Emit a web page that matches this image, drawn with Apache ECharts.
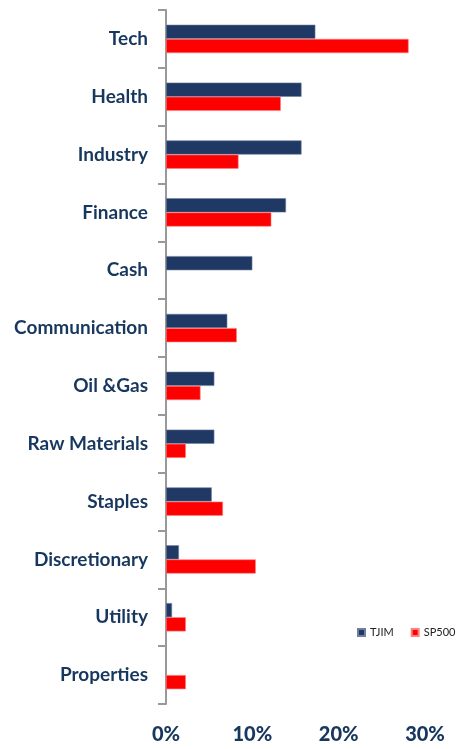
<!DOCTYPE html>
<html>
<head>
<meta charset="utf-8">
<script src="https://cdn.jsdelivr.net/npm/echarts@6/dist/echarts.min.js"></script>
<style>html,body{margin:0;padding:0;background:#fff}#c{width:457px;height:749px}</style>
</head>
<body>
<div id="c"></div>
<script>
const categories = ['Tech','Health','Industry','Finance','Cash','Communication','Oil &Gas','Raw Materials','Staples','Discretionary','Utility','Properties'];
const tjim = [17.3, 15.7, 15.7, 13.9, 10.0, 7.1, 5.6, 5.6, 5.3, 1.5, 0.7, null];
const sp500 = [28.1, 13.3, 8.4, 12.2, null, 8.2, 4.0, 2.3, 6.6, 10.4, 2.3, 2.3];
const xTicks = [0, 10, 20, 30];

const FONT = 'Lato, Liberation Sans, sans-serif';
const chart = echarts.init(document.getElementById('c'));
chart.setOption({
  animation: false,
  grid: { left: 166, right: 32, top: 10, bottom: 45, containLabel: false, outerBoundsMode: 'none' },
  legend: {
    data: ['TJIM', 'SP500'],
    orient: 'horizontal',
    left: 357, top: 627,
    padding: 0,
    itemWidth: 7, itemHeight: 7, itemGap: 17,
    icon: 'rect',
    textStyle: { color: '#222', fontSize: 11, fontFamily: FONT }
  },
  xAxis: {
    type: 'value', min: xTicks[0], max: xTicks[xTicks.length-1], interval: 10,
    axisLine: { show: false }, axisTick: { show: false }, splitLine: { show: false },
    axisLabel: {
      formatter: '{value}%', color: '#17375E', fontSize: 20, fontWeight: 900, margin: 21,
      fontFamily: FONT
    }
  },
  yAxis: {
    type: 'category', data: categories, inverse: true,
    axisLine: { show: true, lineStyle: { color: '#999', width: 2 } },
    axisTick: { show: true, length: 8, lineStyle: { color: '#999', width: 2 } },
    axisLabel: {
      color: '#17375E', fontSize: 19, fontWeight: 'bold', margin: 18,
      fontFamily: FONT
    }
  },
  series: [
    { name: 'TJIM', type: 'bar', data: tjim, barGap: '0%', barCategoryGap: '51%',
      itemStyle: { color: '#1F3864', borderColor: '#6F7FA0', borderWidth: 0.6 } },
    { name: 'SP500', type: 'bar', data: sp500,
      itemStyle: { color: '#FF0000', borderColor: '#FF8080', borderWidth: 0.6 } }
  ]
});
</script>
</body>
</html>
